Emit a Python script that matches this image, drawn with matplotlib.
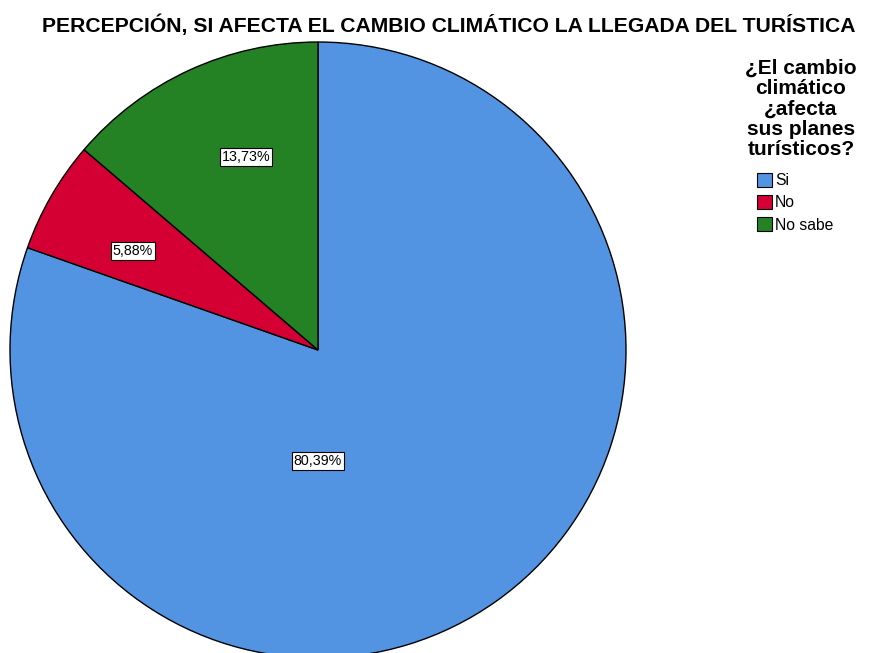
import matplotlib
matplotlib.use("Agg")
import matplotlib.pyplot as plt
from matplotlib.patches import Patch

# ===== DATA =====
categories = ["Si", "No", "No sabe"]
values = [80.39, 5.88, 13.73]
labels = ["80,39%", "5,88%", "13,73%"]
colors = ["#5294e2", "#d40034", "#248224"]

TITLE = "PERCEPCIÓN, SI AFECTA EL CAMBIO CLIMÁTICO LA LLEGADA DEL TURÍSTICA"
LEGEND_TITLE = "¿El cambio\nclimático\n¿afecta\nsus planes\nturísticos?"

plt.rcParams["font.family"] = ["Liberation Sans", "DejaVu Sans"]

W, H = 869, 653
fig = plt.figure(figsize=(W / 100, H / 100), dpi=100)
ax = fig.add_axes([0, 0, 1, 1])
ax.axis("off")

# pie in pixel coordinates (y from bottom)
cx, cy, r = 318, H - 350, 308
wedges, _ = ax.pie(values, colors=colors, startangle=90, counterclock=False,
                   center=(cx, cy), radius=r,
                   wedgeprops=dict(edgecolor="black", linewidth=1))
ax.set_aspect("equal")
ax.set_xlim(0, W)
ax.set_ylim(0, H)

# percentage labels (positions as in the reference)
label_pos = [(318, H - 461), (133, H - 251), (246, H - 157)]
for (x, y), txt in zip(label_pos, labels):
    ax.text(x, y, txt, ha="center", va="center", fontsize=10.3,
            bbox=dict(boxstyle="square,pad=0.15", facecolor="white",
                      edgecolor="black", linewidth=0.8))

fig.text(449 / W, 1 - 32 / H, TITLE, ha="center", va="baseline",
         fontsize=15.2, fontweight="bold")

# legend
fig.text(801 / W, 1 - 109 / H, LEGEND_TITLE, ha="center", va="center",
         fontsize=15, fontweight="bold", linespacing=1.08)
handles = [Patch(facecolor=c, edgecolor="black", linewidth=0.8) for c in colors]
leg = fig.legend(handles, categories, loc="upper left",
                 bbox_to_anchor=(757 / W, 1 - 173 / H), frameon=False,
                 fontsize=11.3, handlelength=0.95, handleheight=0.95,
                 handletextpad=0.2, labelspacing=0.45, borderpad=0,
                 borderaxespad=0)

fig.savefig("out.png", dpi=100)
